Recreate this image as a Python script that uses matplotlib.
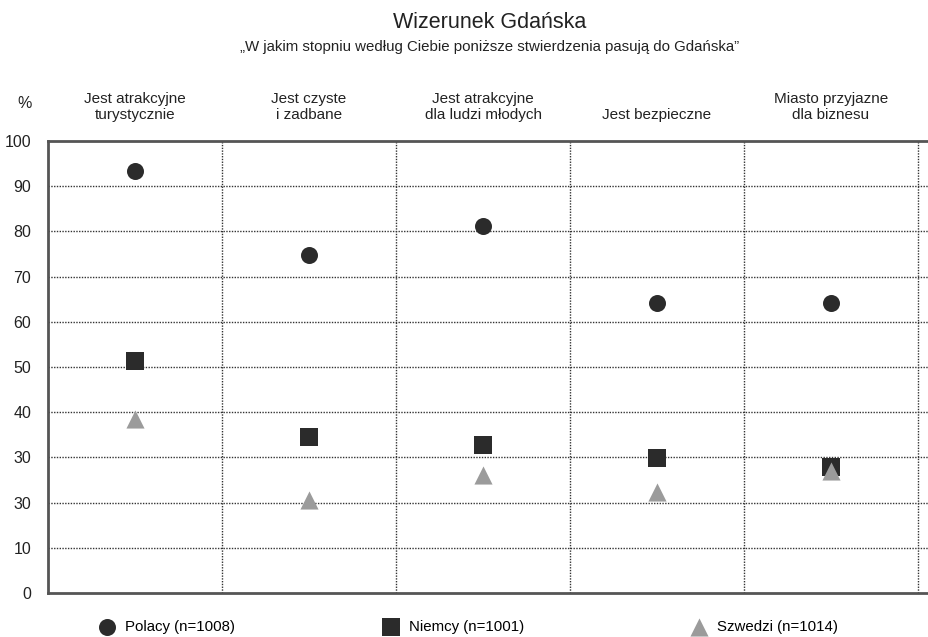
import numpy as np
import matplotlib.pyplot as plt

plt.rcParams['font.family'] = ['Liberation Sans', 'DejaVu Sans']

# data
categories = ['Jest atrakcyjne\nturystycznie', 'Jest czyste\ni zadbane',
              'Jest atrakcyjne\ndla ludzi młodych', 'Jest bezpieczne',
              'Miasto przyjazne\ndla biznesu']
polacy = [93.3, 74.8, 81.2, 64.2, 64.2]
niemcy = [51.3, 34.5, 32.7, 29.9, 27.9]
szwedzi = [38.5, 20.6, 26.1, 22.3, 27.0]
series_names = ['Polacy (n=1008)', 'Niemcy (n=1001)', 'Szwedzi (n=1014)']
yticks = [0, 10, 20, 30, 40, 50, 60, 70, 80, 90, 100]
ytick_labels = ['0', '10', '30', '30', '40', '50', '60', '70', '80', '90', '100']

dark = '#2b2b2b'
grey = '#9b9b9b'
spine_col = '#555555'
txt = '#222222'

fig = plt.figure(figsize=(9.29, 6.37), dpi=100)
ax = fig.add_axes([48 / 929, 44 / 637, 1 - 48 / 929, 452 / 637])

x = np.arange(len(categories))
h1 = ax.scatter(x, polacy, marker='o', s=150, color=dark, zorder=3, linewidths=0)
h2 = ax.scatter(x, niemcy, marker='s', s=160, color=dark, zorder=3, linewidths=0)
h3 = ax.scatter(x, szwedzi, marker='^', s=170, color=grey, zorder=4, linewidths=0)

ax.set_xlim(-0.5, 4.563)
ax.set_ylim(0, 100)

# dotted grid
for yv in yticks[1:-1]:
    ax.axhline(yv, color='#333333', lw=1, ls=(0, (1, 1)), zorder=1)
for xv in np.arange(0.5, 5, 1):
    ax.axvline(xv, color='#333333', lw=1, ls=(0, (1, 1)), zorder=1)

ax.set_yticks(yticks)
ax.set_yticklabels(ytick_labels, fontsize=11.5, color=txt)
ax.tick_params(axis='y', length=0, pad=12)

ax.xaxis.tick_top()
ax.set_xticks(x)
ax.set_xticklabels(categories, fontsize=11, color=txt, linespacing=1.15)
ax.tick_params(axis='x', length=0, pad=14)

for s in ['left', 'top', 'bottom']:
    ax.spines[s].set_color(spine_col)
    ax.spines[s].set_linewidth(2)
ax.spines['right'].set_visible(False)

fig.text(25 / 929, 1 - 104 / 637, '%', fontsize=11.5, ha='center', va='center', color=txt)
fig.text(490 / 929, 1 - 22 / 637, 'Wizerunek Gdańska', fontsize=15.5, ha='center', va='center', color=txt)
fig.text(490 / 929, 1 - 47 / 637, '„W jakim stopniu według Ciebie poniższe stwierdzenia pasują do Gdańska”',
         fontsize=10.8, ha='center', va='center', color=txt)

# legend, one entry per anchor
handles = [h1, h2, h3]
anchors = [98, 382, 690]
for hnd, name, ax_x in zip(handles, series_names, anchors):
    fig.legend([hnd], [name], loc='center left', bbox_to_anchor=(ax_x / 929, 1 - 627 / 637),
               frameon=False, fontsize=10.8, handletextpad=0.6, borderpad=0, borderaxespad=0,
               handlelength=1.2, scatterpoints=1)

fig.savefig('out.png', dpi=100)
